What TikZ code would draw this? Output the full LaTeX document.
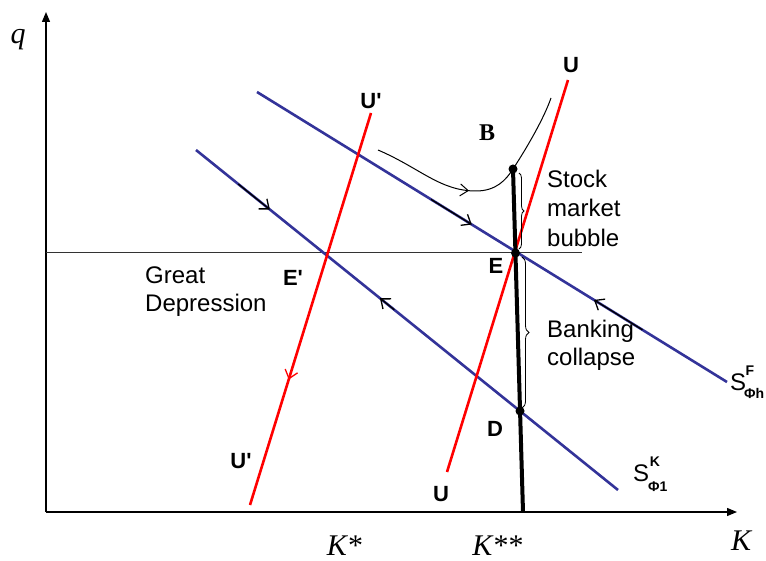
\documentclass[tikz,border=0pt]{standalone}
\usepackage{fontspec}
\setmainfont{Liberation Serif}
\setsansfont{Liberation Sans}
\usetikzlibrary{arrows.meta,calc,decorations.pathreplacing,decorations.markings}
\definecolor{sblue}{RGB}{51,51,153}
\begin{document}
\begin{tikzpicture}[x=1pt,y=-1pt,
  lbl/.style={font=\sffamily\fontsize{24}{28}\selectfont, align=left, inner sep=0pt},
  blbl/.style={font=\sffamily\bfseries\fontsize{22}{26}\selectfont, inner sep=0pt},
  serb/.style={font=\bfseries\fontsize{24}{28}\selectfont, inner sep=0pt},
  mlbl/.style={font=\fontsize{30}{34}\selectfont, inner sep=0pt},
  slbl/.style={font=\sffamily\fontsize{24}{28}\selectfont, inner sep=0pt},
  ssub/.style={font=\sffamily\bfseries\fontsize{14}{16}\selectfont, inner sep=0pt},
  axisline/.style={line width=1.2pt, -{Triangle[length=10pt,width=8pt]}},
  sline/.style={draw=sblue, line width=2.6pt},
  uline/.style={draw=red, line width=2.6pt},
  barb/.style={-{Straight Barb[length=8pt,width=13pt]}, line width=1.3pt},
  bracestyle/.style={draw, line width=0.8pt, decorate, decoration={brace, amplitude=#1}},
]
\useasboundingbox (0,0) rectangle (766,561);

% axes
\coordinate (O) at (46,512);
\coordinate (ytop) at (46,12);
\coordinate (xend) at (737,512);
\draw[axisline] (O) -- (ytop);
\draw[axisline] (O) -- (xend);
\coordinate (hl) at (46,253);
\coordinate (hr) at (582,253);
\draw[line width=1pt, black!80] (hl) -- (hr);

% supply lines
\coordinate (A1) at (257,92);
\coordinate (A2) at (727,382);
\coordinate (B1) at (196,150);
\coordinate (B2) at (618,490);
\draw[sline] (A1) -- (A2);
\draw[sline] (B1) -- (B2);

% U lines
\coordinate (P1) at (371,113);
\coordinate (P2) at (250,505);
\coordinate (Q1) at (568,80);
\coordinate (Q2) at (447,472);
\draw[uline] (P1) -- (P2);
\draw[uline] (Q1) -- (Q2);
\draw[red, barb] ($(P1)!0.6!(P2)$) -- ($(P1)!0.68!(P2)$);

% direction arrows on S lines
\draw[barb] ($(A1)!0.37!(A2)$) -- ($(A1)!0.457!(A2)$);
\draw[barb] ($(A1)!0.82!(A2)$) -- ($(A1)!0.717!(A2)$);
\draw[barb] ($(B1)!0.10!(B2)$) -- ($(B1)!0.175!(B2)$);
\draw[barb] ($(B1)!0.47!(B2)$) -- ($(B1)!0.436!(B2)$);

% thick line
\coordinate (Ktop) at (513,169);
\coordinate (Kbot) at (523,512);
\coordinate (E) at (515.5,253);
\coordinate (Dp) at (520,411);
\draw[line width=4pt] (Ktop) -- (Kbot);
\fill (Ktop) circle (4.5pt);
\fill (E) circle (4.5pt);
\fill (Dp) circle (4.5pt);

% B curve
\coordinate (c0) at (378,150);
\coordinate (c1) at (476,191);
\coordinate (c3) at (551,98);
\draw[line width=1pt, postaction={decorate, decoration={markings, mark=at position 0.43 with {\arrow{Straight Barb[length=8pt,width=12pt]}}}}]
  (c0) .. controls (420,168) and (440,191) .. (c1)
       .. controls (496,191) and (506,180) .. (Ktop)
       .. controls (528,146) and (544,118) .. (c3);

% braces
\coordinate (b1t) at (519,173);
\coordinate (b1b) at (519,249);
\draw[bracestyle=5pt] (b1t) -- (b1b);
\coordinate (b2t) at (522,257);
\coordinate (b2b) at (522,408);
\draw[bracestyle=7pt] (b2t) -- (b2b);

% labels
\node[mlbl, font=\itshape\fontsize{30}{34}\selectfont] (q) at (18,40) {q};
\node[mlbl, font=\itshape\fontsize{30}{34}\selectfont] (K) at (741,541) {K};
\node[mlbl] (Ks) at (345,546) {\textit{K}*};
\node[mlbl] (Kss) at (498,546) {\textit{K}**};

\node[blbl] (Ut) at (571,65) {U};
\node[blbl] (Upt) at (371,101) {U\textquotesingle};
\node[serb] (Bl) at (487,133) {B};
\node[blbl] (El) at (496,266) {E};
\node[blbl] (Epl) at (293,278) {E\textquotesingle};
\node[blbl] (Dl) at (495,429) {D};
\node[blbl] (Upb) at (241,461) {U\textquotesingle};
\node[blbl] (Ub) at (441,494) {U};

\node[lbl, anchor=west, font=\sffamily\fontsize{24}{29.5}\selectfont] (stock) at (547,208) {Stock\\market\\bubble};
\node[lbl, anchor=west] (bank) at (547,345) {Banking\\collapse};
\node[lbl, anchor=west] (great) at (145,292) {Great\\Depression};

% S labels
\node[slbl] (SF) at (738,382) {S};
\node[ssub] (SFs) at (750,371) {F};
\node[ssub, anchor=west] (SFi) at (744,393) {Φh};
\node[slbl] (SK) at (641,473) {S};
\node[ssub] (SKs) at (655,462) {K};
\node[ssub, anchor=west] (SKi) at (648,487) {Φ1};
\end{tikzpicture}
\end{document}
